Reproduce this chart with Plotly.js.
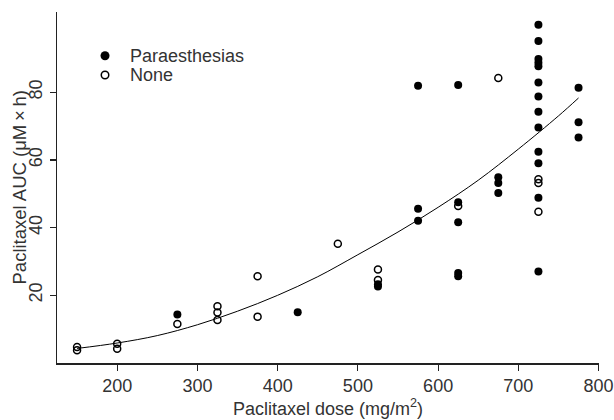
<!DOCTYPE html>
<html>
<head>
<meta charset="utf-8">
<script src="https://cdn.plot.ly/plotly-3.0.1.min.js"></script>
<style>html,body{margin:0;padding:0;background:#fff;}#chart{width:614px;height:420px;}</style>
</head>
<body>
<div id="chart"></div>
<script>
// Paraesthesias (filled)
const parDose = [275, 425, 525, 525, 575, 575, 575, 625, 625, 625, 625, 625, 675, 675, 675,
  725, 725, 725, 725, 725, 725, 725, 725, 725, 725, 725, 725, 725, 775, 775, 775];
const parAUC = [14.3, 15.0, 22.6, 23.3, 81.9, 45.6, 42.0, 82.1, 47.5, 41.6, 26.6, 25.6, 54.9, 53.2, 50.2,
  99.9, 95.1, 89.8, 88.7, 87.7, 82.9, 78.7, 74.2, 69.6, 62.4, 59.0, 48.8, 27.0, 81.3, 71.1, 66.6];
// None (open)
const noneDose = [150, 150, 200, 200, 275, 325, 325, 325, 375, 375, 475, 525, 525, 625, 675, 725, 725, 725];
const noneAUC = [4.7, 3.8, 5.7, 4.2, 11.5, 16.8, 14.9, 12.7, 25.6, 13.7, 35.2, 27.6, 24.5, 46.4, 84.2, 54.3, 53.2, 44.7];
// Fitted curve
const fitDose = [150, 200, 250, 300, 350, 400, 450, 500, 550, 600, 650, 700, 750, 775];
const fitAUC = [4.3, 5.9, 8.1, 11.3, 15.3, 20.0, 25.5, 32.0, 38.7, 46.0, 54.0, 63.2, 73.0, 78.3];
const xTicks = [200, 300, 400, 500, 600, 700, 800];
const yTicks = [20, 40, 60, 80];
const legendNames = ['Paraesthesias', 'None'];

const font = {family: '"Liberation Sans", Arial, sans-serif', size: 18, color: '#333'};

// legend key placement on an invisible 0..1 overlay axis
const legX = [0.0886, 0.0886];
const legY = [0.8755, 0.8205];

const traces = [
  {x: fitDose, y: fitAUC, mode: 'lines', line: {color: '#000', width: 1, shape: 'spline'},
   showlegend: false, hoverinfo: 'skip'},
  {x: parDose, y: parAUC, mode: 'markers', name: legendNames[0], showlegend: false,
   marker: {symbol: 'circle', size: 8, color: '#000'}},
  {x: noneDose, y: noneAUC, mode: 'markers', name: legendNames[1], showlegend: false,
   marker: {symbol: 'circle-open', size: 7, color: '#000', line: {width: 1.5, color: '#000'}}},
  {x: [legX[0]], y: [legY[0]], xaxis: 'x2', yaxis: 'y2', mode: 'markers', showlegend: false,
   marker: {symbol: 'circle', size: 9, color: '#000'}},
  {x: [legX[1]], y: [legY[1]], xaxis: 'x2', yaxis: 'y2', mode: 'markers', showlegend: false,
   marker: {symbol: 'circle-open', size: 7.5, color: '#000', line: {width: 1.5, color: '#000'}}}
];

const layout = {
  width: 614, height: 420,
  margin: {l: 57, r: 15, t: 12, b: 57},
  paper_bgcolor: '#fff', plot_bgcolor: '#fff',
  font: font,
  showlegend: false,
  xaxis: {
    range: [125, 800.5], tickvals: xTicks, ticktext: xTicks.map(String),
    showgrid: false, zeroline: false, showline: true, linecolor: '#222', linewidth: 1.5,
    ticks: 'outside', ticklen: 6, tickwidth: 1.2, tickcolor: '#222',
    tickfont: font, ticklabeloverflow: 'allow',
    title: {text: 'Paclitaxel dose (mg/m<sup>2</sup>)', font: font, standoff: 6}
  },
  yaxis: {
    range: [0, 103.7], tickvals: yTicks, ticktext: yTicks.map(String),
    showgrid: false, zeroline: false, showline: true, linecolor: '#222', linewidth: 1.5,
    ticks: 'outside', ticklen: 6, tickwidth: 1.2, tickcolor: '#222',
    tickangle: -90, tickfont: font
  },
  xaxis2: {overlaying: 'x', range: [0, 1], visible: false, fixedrange: true},
  yaxis2: {overlaying: 'y', range: [0, 1], visible: false, fixedrange: true},
  annotations: [
    {xref: 'paper', yref: 'paper', x: 0.1304, y: legY[0], xanchor: 'left', yanchor: 'middle',
     text: legendNames[0], showarrow: false, font: font},
    {xref: 'paper', yref: 'paper', x: 0.1304, y: legY[1], xanchor: 'left', yanchor: 'middle',
     text: legendNames[1], showarrow: false, font: font},
    {xref: 'paper', yref: 'paper', x: 0, y: 0.5, xshift: -38, xanchor: 'center', yanchor: 'middle',
     textangle: -90, text: 'Paclitaxel AUC (μM\u2009×\u2009h)', showarrow: false,
     font: {family: font.family, size: 18.5, color: '#333'}}
  ]
};

Plotly.newPlot('chart', traces, layout, {displayModeBar: false, staticPlot: true});
</script>
</body>
</html>
